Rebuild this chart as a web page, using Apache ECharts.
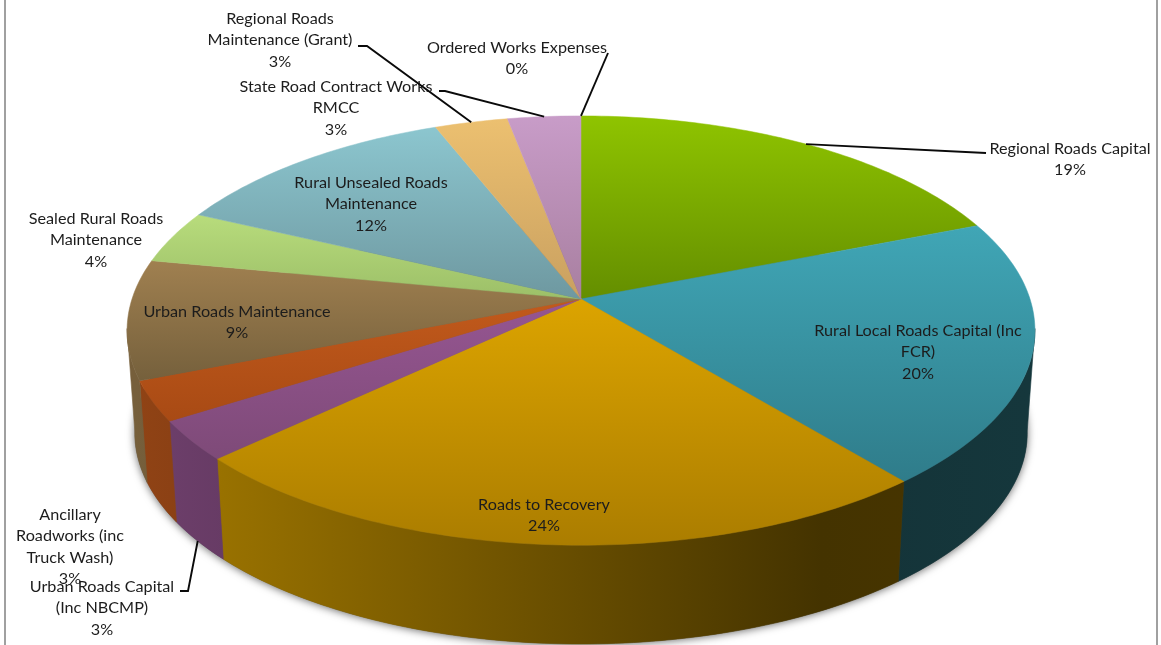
<!DOCTYPE html>
<html>
<head>
<meta charset="utf-8">
<style>html,body{margin:0;padding:0;background:#fff}#chart{width:1161px;height:645px}</style>
<script src="https://cdn.jsdelivr.net/npm/echarts@6/dist/echarts.min.js"></script>
</head>
<body>
<div id="chart"></div>
<script>
// Road expenditure shares, clockwise from twelve o'clock.
const categories = [
  'Regional Roads Capital',
  'Rural Local Roads Capital (Inc\nFCR)',
  'Roads to Recovery',
  'Urban Roads Capital\n(Inc NBCMP)',
  'Ancillary\nRoadworks (inc\nTruck Wash)',
  'Urban Roads Maintenance',
  'Sealed Rural Roads\nMaintenance',
  'Rural Unsealed Roads\nMaintenance',
  'Regional Roads\nMaintenance (Grant)',
  'State Road Contract Works\nRMCC',
  'Ordered Works Expenses'
];
const shares = [19, 20, 24, 3, 3, 9, 4, 12, 3, 3, 0];

// Top-face gradient per slice: upper colour, lower colour.
const upperColors = ['#8fc400', '#40a6b6', '#dca400', '#965692', '#c25a1c', '#a08050', '#b8dc7c', '#8cc6cf', '#ecc070', '#c89cc8', '#c89cc8'];
const lowerColors = ['#648e00', '#2f7c8a', '#ab7d00', '#7e4a78', '#a84a14', '#75603c', '#9cbf68', '#6e98a0', '#c9a060', '#a87fa0', '#a87fa0'];

// Label centre and first-line box top, and the leader's elbow points (empty = no leader).
const labelAnchors = [
  [1070, 138], [918, 320], [544, 494], [102, 576], [70, 504], [237, 301],
  [96, 208], [371, 172], [280, 8], [336, 76], [517, 37]
];
const leaderElbows = [
  [[986, 153]], [], [], [[180, 591], [188, 591]], [], [],
  [], [], [[358, 46], [367, 46]], [[439, 91], [445, 91]], [[608, 53]]
];

// Disc geometry: a tilted circle projected with mild perspective.
const apexX = 581, apexY = 299, radiusX = 449, radiusY = 210, tilt = 0.147;
const rimDrop = 103, rimScale = 0.983;

function project(turn, lower) {
  const a = turn * 2 * Math.PI;
  const sx = Math.sin(a), cy = -Math.cos(a);
  const w = 1 - tilt * cy;
  const s = lower ? rimScale : 1;
  return [apexX + s * radiusX * sx / w, apexY + (lower ? rimDrop : 0) + s * radiusY * cy / w];
}
function arc(from, to, lower) {
  const n = Math.max(1, Math.ceil((to - from) * 360));
  const pts = [];
  for (let i = 0; i <= n; i++) pts.push(project(from + (to - from) * i / n, lower));
  return pts;
}
function shade(hex, f) {
  const v = parseInt(hex.slice(1), 16);
  const c = [v >> 16, (v >> 8) & 255, v & 255].map(x => Math.round(x * f));
  return 'rgb(' + c.join(',') + ')';
}

let running = 0;
const total = shares.reduce((a, b) => a + b, 0);
const spans = shares.map(v => {
  const start = running / total;
  running += v;
  return [start, running / total];
});

// The wall is only visible between the two silhouette tangents.
const wallFrom = 0.272, wallTo = 0.728;

function renderWall(params, api) {
  const i = params.dataIndex;
  const children = [];
  if (i === 0) {
    children.push({
      type: 'polygon',
      shape: { points: arc(0, 1, true) },
      style: { fill: '#555', shadowBlur: 9, shadowColor: 'rgba(0,0,0,0.6)', shadowOffsetY: 1 },
      z2: 0
    });
  }
  const from = Math.max(api.value(0), wallFrom), to = Math.min(api.value(1), wallTo);
  if (to > from) {
    const base = upperColors[i];
    const grad = {
      type: 'linear', global: true, x: 135, y: 0, x2: 1027, y2: 0,
      colorStops: [
        { offset: 0, color: shade(base, 0.74) },
        { offset: 0.1, color: shade(base, 0.69) },
        { offset: 0.77, color: shade(base, 0.31) },
        { offset: 1, color: shade(base, 0.33) }
      ]
    };
    children.push({
      type: 'polygon',
      shape: { points: arc(from, to, false).concat(arc(from, to, true).reverse()) },
      style: { fill: grad, stroke: grad, lineWidth: 0.6 },
      z2: 1
    });
  }
  return { type: 'group', children };
}

function renderTop(params, api) {
  const i = params.dataIndex;
  const from = api.value(0), to = api.value(1);
  if (to <= from) return { type: 'group', children: [] };
  const grad = {
    type: 'linear', x: 0, y: 0, x2: 0, y2: 1,
    colorStops: [{ offset: 0, color: upperColors[i] }, { offset: 1, color: lowerColors[i] }]
  };
  return {
    type: 'polygon',
    shape: { points: [[apexX, apexY]].concat(arc(from, to, false)) },
    style: { fill: grad, stroke: grad, lineWidth: 0.5 }
  };
}

function renderCallout(params, api) {
  const i = params.dataIndex;
  const children = [];
  const elbows = leaderElbows[i];
  const mid = (api.value(0) + api.value(1)) / 2;
  if (elbows.length) {
    const end = project(mid, mid > wallFrom && mid < wallTo);
    children.push({
      type: 'polyline',
      shape: { points: elbows.concat([end]) },
      style: { stroke: '#0a0a0a', lineWidth: 1.9, fill: 'none' },
      z2: 2
    });
  }
  children.push({
    type: 'text',
    style: {
      text: categories[i] + '\n' + api.value(2) + '%',
      x: labelAnchors[i][0], y: labelAnchors[i][1],
      align: 'center', verticalAlign: 'top',
      font: '16.2px Lato', lineHeight: 21.5, fill: '#1c1c1c'
    },
    z2: 1
  });
  return { type: 'group', children };
}

const rows = spans.map((s, i) => [s[0], s[1], shares[i]]);
const layer = (renderItem, z) => ({
  type: 'custom', coordinateSystem: 'none', data: rows, renderItem, z,
  silent: true, animation: false, clip: false
});

const chart = echarts.init(document.getElementById('chart'));
chart.setOption({
  backgroundColor: '#ffffff',
  animation: false,
  graphic: [
    { type: 'line', shape: { x1: 5, y1: 0, x2: 5, y2: 645 }, style: { stroke: '#a0a0a0', lineWidth: 2 } },
    { type: 'line', shape: { x1: 1157, y1: 0, x2: 1157, y2: 645 }, style: { stroke: '#a0a0a0', lineWidth: 2 } }
  ],
  series: [layer(renderWall, 1), layer(renderTop, 2), layer(renderCallout, 3)]
});
</script>
</body>
</html>
